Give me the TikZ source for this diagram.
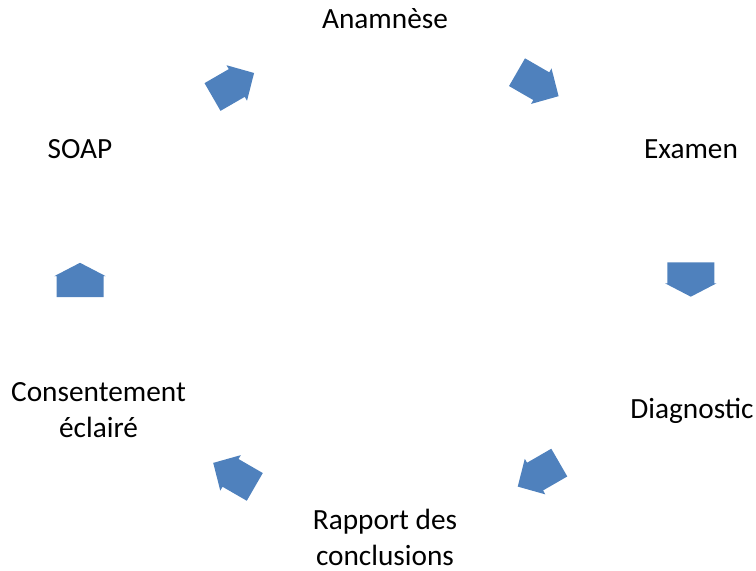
\documentclass[tikz,border=0pt]{standalone}
\usepackage{fontspec}
\setmainfont{Carlito}
\definecolor{smartblue}{HTML}{4F81BD}
% block arrow centred at (#1,#2), pointing at angle #3;
% half length #4, body half width #5, head half width #6, shoulder position #7
\newcommand\cyclearrowat[7]{%
  \fill[smartblue, shift={(#1,#2)}, rotate=#3]
    (-#4,-#5) -- (#7,-#5) -- (#7,-#6) -- (#4,0) -- (#7,#6) -- (#7,#5) -- (-#4,#5) -- cycle;}
\newcommand\straightarrowat[3]{\cyclearrowat{#1}{#2}{#3}{17.2}{23.5}{25.8}{3.8}}
\newcommand\slantarrowat[3]{\cyclearrowat{#1}{#2}{#3}{24}{16}{20.5}{4}}
\begin{document}
\begin{tikzpicture}[x=1bp,y=1bp,
  lbl/.style={inner sep=0pt, anchor=base, align=center, font=\fontsize{29.3bp}{36bp}\selectfont, text=black}]
\useasboundingbox (0,0) rectangle (756,571);
% y coordinates are 571 minus the pixel row
\node[lbl] (anam) at (385,542) {Anamnèse};
\node[lbl] (exam) at (691,412) {Examen};
\node[lbl] (diag) at (692,152) {Diagnostic};
\node[lbl] (rapp) at (385,5) {Rapport des\\conclusions};
\node[lbl] (cons) at (98.5,133) {Consentement\\éclairé};
\node[lbl] (soap) at (80,412) {SOAP};
\slantarrowat{537.8}{486.8}{-30}
\straightarrowat{690.8}{291.5}{-90}
\slantarrowat{538.5}{96.4}{-150}
\slantarrowat{234}{96.1}{150}
\straightarrowat{80}{291}{90}
\slantarrowat{233.3}{486}{30}
\end{tikzpicture}
\end{document}
